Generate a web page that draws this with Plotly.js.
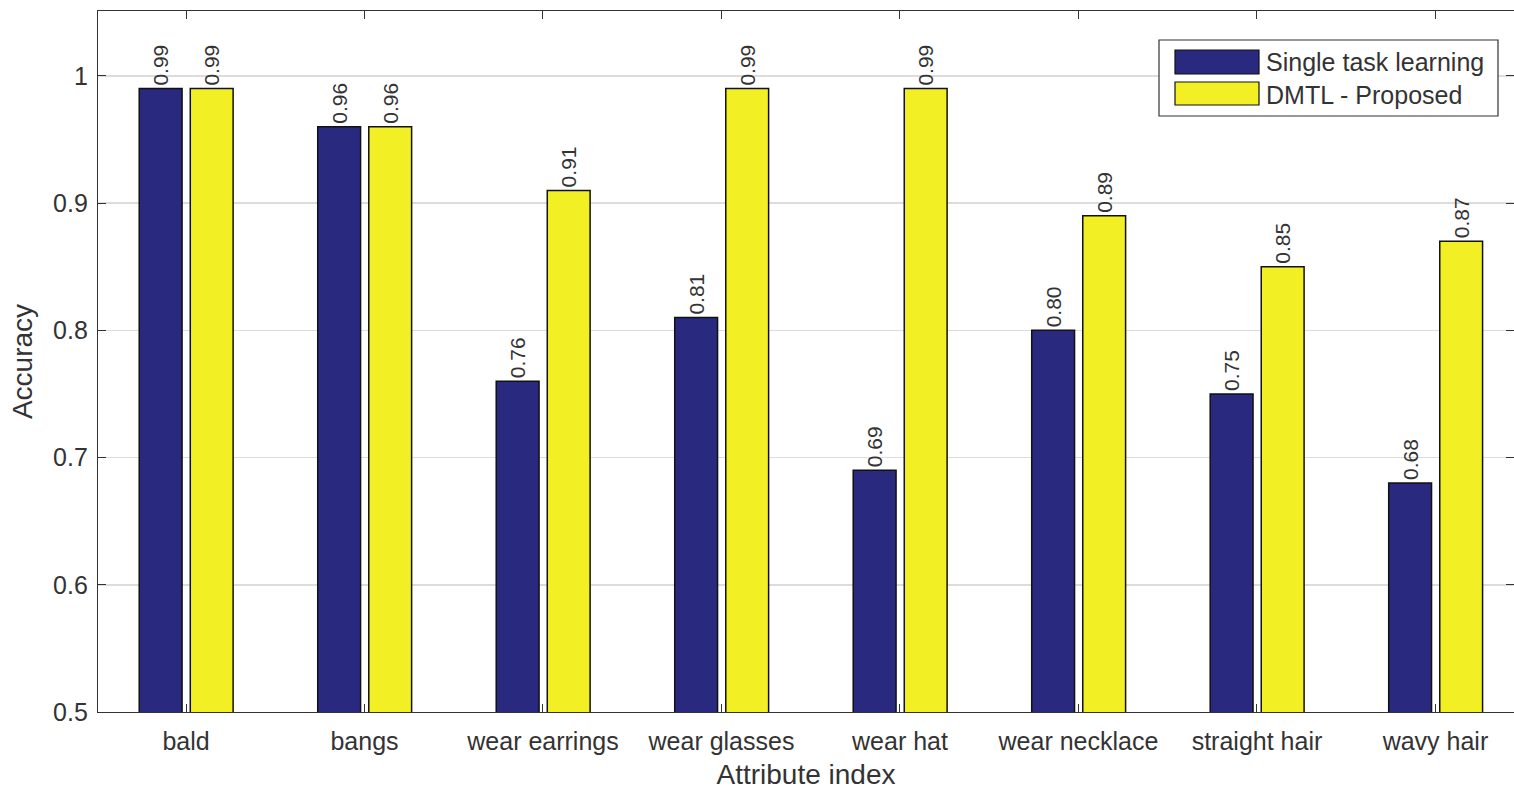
<!DOCTYPE html>
<html>
<head>
<meta charset="utf-8">
<script src="https://cdn.plot.ly/plotly-3.0.1.min.js"></script>
<style>html,body{margin:0;padding:0;background:#fff;}#chart{width:1514px;height:794px;}</style>
</head>
<body>
<div id="chart"></div>
<script>
const categories = ["bald", "bangs", "wear earrings", "wear glasses", "wear hat", "wear necklace", "straight hair", "wavy hair"];
const singleTask = [0.99, 0.96, 0.76, 0.81, 0.69, 0.80, 0.75, 0.68];
const dmtl = [0.99, 0.96, 0.91, 0.99, 0.99, 0.89, 0.85, 0.87];
const seriesNames = ["Single task learning", "DMTL - Proposed"];

const W = 1514, H = 794;
const M = {l: 98, r: 0, t: 11, b: 82};
const pw = W - M.l - M.r, ph = H - M.t - M.b;
const px = x => (x - M.l) / pw;
const py = y => (H - M.b - y) / ph;

const FONT = "Liberation Sans, Arial, sans-serif";
const BLUE = "#29297f", YELLOW = "#f2ef24";
const xi = categories.map((c, i) => i);

const mk = (vals, name, color, offset) => ({
  type: "bar", x: xi, y: vals, name: name,
  width: 0.24, offset: offset,
  marker: {color: color, line: {color: "#111", width: 1.5}},
  text: vals.map(v => v.toFixed(2)),
  textposition: "outside", textangle: -90, cliponaxis: false,
  textfont: {family: FONT, size: 21, color: "#333"},
  showlegend: false, hoverinfo: "x+y"
});

const data = [mk(singleTask, seriesNames[0], BLUE, -0.262), mk(dmtl, seriesNames[1], YELLOW, 0.024)];

const shapes = [
  {type: "rect", xref: "paper", yref: "paper", x0: px(1159), x1: px(1498), y0: py(116), y1: py(40), fillcolor: "#fff", line: {color: "#333", width: 1.2}},
  {type: "rect", xref: "paper", yref: "paper", x0: px(1175), x1: px(1259), y0: py(74), y1: py(50), fillcolor: BLUE, line: {color: "#111", width: 1.2}},
  {type: "rect", xref: "paper", yref: "paper", x0: px(1175), x1: px(1259), y0: py(105), y1: py(82), fillcolor: YELLOW, line: {color: "#111", width: 1.2}}
];
const annotations = [
  {xref: "paper", yref: "paper", x: px(1264), y: py(62), xanchor: "left", yanchor: "middle", text: seriesNames[0], showarrow: false, font: {family: FONT, size: 25, color: "#333"}},
  {xref: "paper", yref: "paper", x: px(1264), y: py(95), xanchor: "left", yanchor: "middle", text: seriesNames[1], showarrow: false, font: {family: FONT, size: 25, color: "#333"}}
];

const layout = {
  width: W, height: H, margin: M,
  paper_bgcolor: "#fff", plot_bgcolor: "#fff",
  showlegend: false,
  font: {family: FONT, size: 20, color: "#333"},
  xaxis: {
    range: [-0.493, 7.44], tickvals: xi, ticktext: categories,
    ticks: "inside", ticklen: 8, tickcolor: "#333",
    showline: true, linecolor: "#333", linewidth: 1.2, mirror: "ticks",
    showgrid: false, zeroline: false, ticklabelstandoff: 7,
    tickfont: {family: FONT, size: 25, color: "#333"},
    title: {text: "Attribute index", font: {family: FONT, size: 28, color: "#333"}, standoff: 10}
  },
  yaxis: {
    range: [0.5, 1.051], tick0: 0.5, dtick: 0.1,
    ticks: "inside", ticklen: 8, tickcolor: "#333",
    showline: true, linecolor: "#333", linewidth: 1.2, mirror: "ticks",
    showgrid: true, gridcolor: "#dcdcdc", gridwidth: 1.5, zeroline: false, ticklabelstandoff: 4,
    tickfont: {family: FONT, size: 25, color: "#333"},
    title: {text: "Accuracy", font: {family: FONT, size: 28, color: "#333"}, standoff: 12}
  },
  shapes: shapes, annotations: annotations
};

Plotly.newPlot("chart", data, layout, {displayModeBar: false, staticPlot: true});
</script>
</body>
</html>
